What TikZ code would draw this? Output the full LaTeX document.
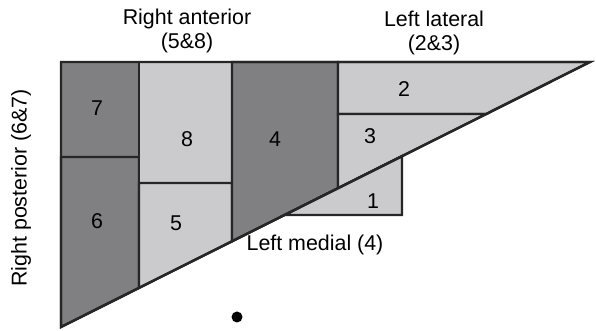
\documentclass[tikz,border=0pt]{standalone}
\usepackage{fontspec}
\setmainfont{Liberation Sans}
\usetikzlibrary{calc}
\usetikzlibrary{positioning}
\definecolor{segdark}{RGB}{128,128,131}
\definecolor{seglight}{RGB}{203,203,205}
\tikzset{
  seg/.style={draw=black!85, line width=1.2pt, line join=miter},
  darkseg/.style={seg, fill=segdark},
  lightseg/.style={seg, fill=seglight},
  num/.style={font=\fontsize{10.7}{12}\selectfont, inner sep=0pt},
  lobe/.style={font=\fontsize{10.7}{12}\selectfont, inner sep=0pt, align=center}
}

\begin{document}
\begin{tikzpicture}[x=0.5pt, y=-0.5pt]
  \useasboundingbox (0,0) rectangle (596,331);

  % corners of the big triangle
  \coordinate (TopLeft)  at (61,62);
  \coordinate (Apex)     at (590,62);
  \coordinate (Bottom)   at (61,327);

  % segments on the left (right lobe)
  \draw[darkseg]  (TopLeft) -- (139,62) -- (139,157) -- (61,157) -- cycle;
  \draw[darkseg]  (61,157) -- (139,157) -- (139,287.9) -- (Bottom) -- cycle;
  \draw[lightseg] (139,62) -- (232,62) -- (232,183) -- (139,183) -- cycle;
  \draw[lightseg] (139,183) -- (232,183) -- (232,241.3) -- (139,287.9) -- cycle;
  % segment 4
  \draw[darkseg]  (232,62) -- (338,62) -- (338,188.2) -- (232,241.3) -- cycle;
  % segments 2 and 3
  \draw[lightseg] (338,62) -- (Apex) -- (486.2,114) -- (338,114) -- cycle;
  \draw[lightseg] (338,114) -- (486.2,114) -- (338,188.2) -- cycle;
  % segment 1 hangs below the diagonal
  \draw[lightseg] (402,156.2) -- (402,215) -- (284.6,215) -- cycle;

  % outline on top
  \draw[seg] (TopLeft) -- (Apex) -- (Bottom) -- cycle;

  % segment numbers
  \node[num] (s7) at (97,108) {7};
  \node[num] (s6) at (97,221) {6};
  \node[num] (s8) at (187,139) {8};
  \node[num] (s5) at (176,223) {5};
  \node[num] (s4) at (275,139) {4};
  \node[num] (s2) at (404,89) {2};
  \node[num] (s3) at (370,136) {3};
  \node[num] (s1) at (373,201) {1};

  % lobe names
  \node[lobe] (rant) at (187,31) {Right anterior\\(5\&8)};
  \node[lobe] (llat) at (434,33) {Left lateral\\(2\&3)};
  \node[lobe] (lmed) at (315,245) {Left medial (4)};
  \node[lobe, rotate=90] (rpos) at (21,188) {Right posterior (6\&7)};

  % the dot
  \fill (237,317) circle (5.5);
\end{tikzpicture}
\end{document}
